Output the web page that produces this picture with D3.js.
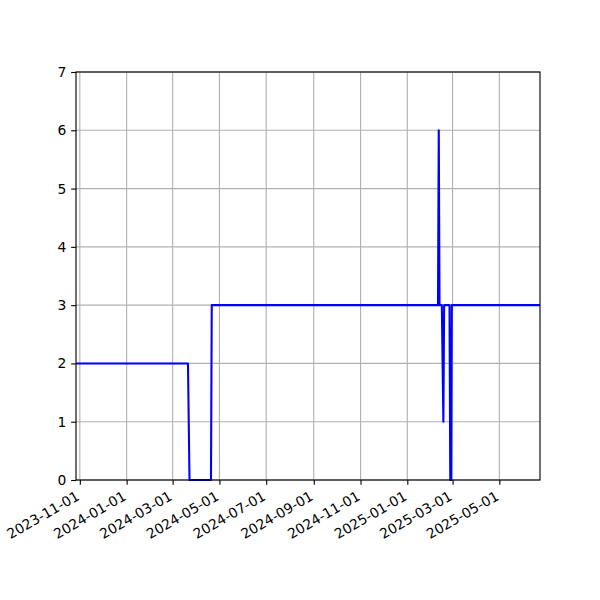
<!DOCTYPE html>
<html>
<head>
<meta charset="utf-8">
<script src="https://cdn.jsdelivr.net/npm/d3@7"></script>
<style>
  html, body { margin: 0; padding: 0; background: #fff; }
  svg { display: block; font-family: "DejaVu Sans", sans-serif; }
</style>
</head>
<body>
<svg id="chart" width="600" height="600"></svg>
<script>
const dates = ["2023-10-27","2024-03-21","2024-03-23","2024-04-20","2024-04-21","2025-02-10","2025-02-11","2025-02-12","2025-02-15","2025-02-17","2025-02-18","2025-02-25","2025-02-26","2025-02-27","2025-02-28","2025-06-23"];
const values = [2,2,0,0,3,3,6,3,3,1,3,3,0,0,3,3];
const xTickLabels = ["2023-11-01","2024-01-01","2024-03-01","2024-05-01","2024-07-01","2024-09-01","2024-11-01","2025-01-01","2025-03-01","2025-05-01"];
const yTicks = [0,1,2,3,4,5,6,7];
const xDomain = ["2023-10-27","2025-06-23"];
const yDomain = [0,7];

const parse = d3.utcParse("%Y-%m-%d");
const data = dates.map((d, i) => ({date: parse(d), value: values[i]}));

const L = 76, R = 540, T = 72, B = 480;
const PT = 100 / 72;
const svg = d3.select("#chart");

const x = d3.scaleUtc().domain(xDomain.map(parse)).range([L, R]);
const y = d3.scaleLinear().domain(yDomain).range([B, T]);

// grid
const grid = svg.append("g");
grid.selectAll("line.vx").data(xTickLabels.map(parse)).enter().append("line")
  .attr("x1", d => x(d)).attr("x2", d => x(d)).attr("y1", T).attr("y2", B)
  .attr("stroke", "#b0b0b0").attr("stroke-width", 0.8 * PT);
grid.selectAll("line.hy").data(yTicks).enter().append("line")
  .attr("x1", L).attr("x2", R).attr("y1", d => y(d)).attr("y2", d => y(d))
  .attr("stroke", "#b0b0b0").attr("stroke-width", 0.8 * PT);

svg.append("clipPath").attr("id", "clip").append("rect")
  .attr("x", L).attr("y", T - 2).attr("width", R - L).attr("height", B - T + 4);

const line = d3.line().x(d => x(d.date)).y(d => y(d.value));
svg.append("path").datum(data)
  .attr("clip-path", "url(#clip)")
  .attr("d", line)
  .attr("fill", "none").attr("stroke", "#0000ff").attr("stroke-width", 1.5 * PT)
  .attr("stroke-linejoin", "round").attr("stroke-linecap", "butt");

// axes
const tickLen = 3.5 * PT;
const xAxis = svg.append("g").attr("transform", `translate(0,${B})`)
  .call(d3.axisBottom(x).tickValues(xTickLabels.map(parse)).tickFormat(d3.utcFormat("%Y-%m-%d")).tickSizeOuter(0).tickSize(tickLen));
xAxis.select(".domain").remove();
xAxis.selectAll(".tick line").attr("stroke", "#000").attr("stroke-width", 0.8 * PT);
xAxis.selectAll(".tick text")
  .attr("font-size", (10 * PT) + "px").attr("font-family", "DejaVu Sans")
  .attr("fill", "#000")
  .attr("text-anchor", "end")
  .attr("dy", null)
  .attr("y", 0)
  .attr("transform", "translate(0,19) rotate(-30)");

const yAxis = svg.append("g").attr("transform", `translate(${L},0)`)
  .call(d3.axisLeft(y).tickValues(yTicks).tickFormat(d3.format("d")).tickSizeOuter(0).tickSize(tickLen).tickPadding(3.5 * PT));
yAxis.select(".domain").remove();
yAxis.selectAll(".tick line").attr("stroke", "#000").attr("stroke-width", 0.8 * PT);
yAxis.selectAll(".tick text")
  .attr("font-size", (10 * PT) + "px").attr("font-family", "DejaVu Sans").attr("fill", "#000");

// spines
svg.append("rect").attr("x", L).attr("y", T).attr("width", R - L).attr("height", B - T)
  .attr("fill", "none").attr("stroke", "#000").attr("stroke-width", 0.8 * PT);
</script>
</body>
</html>
